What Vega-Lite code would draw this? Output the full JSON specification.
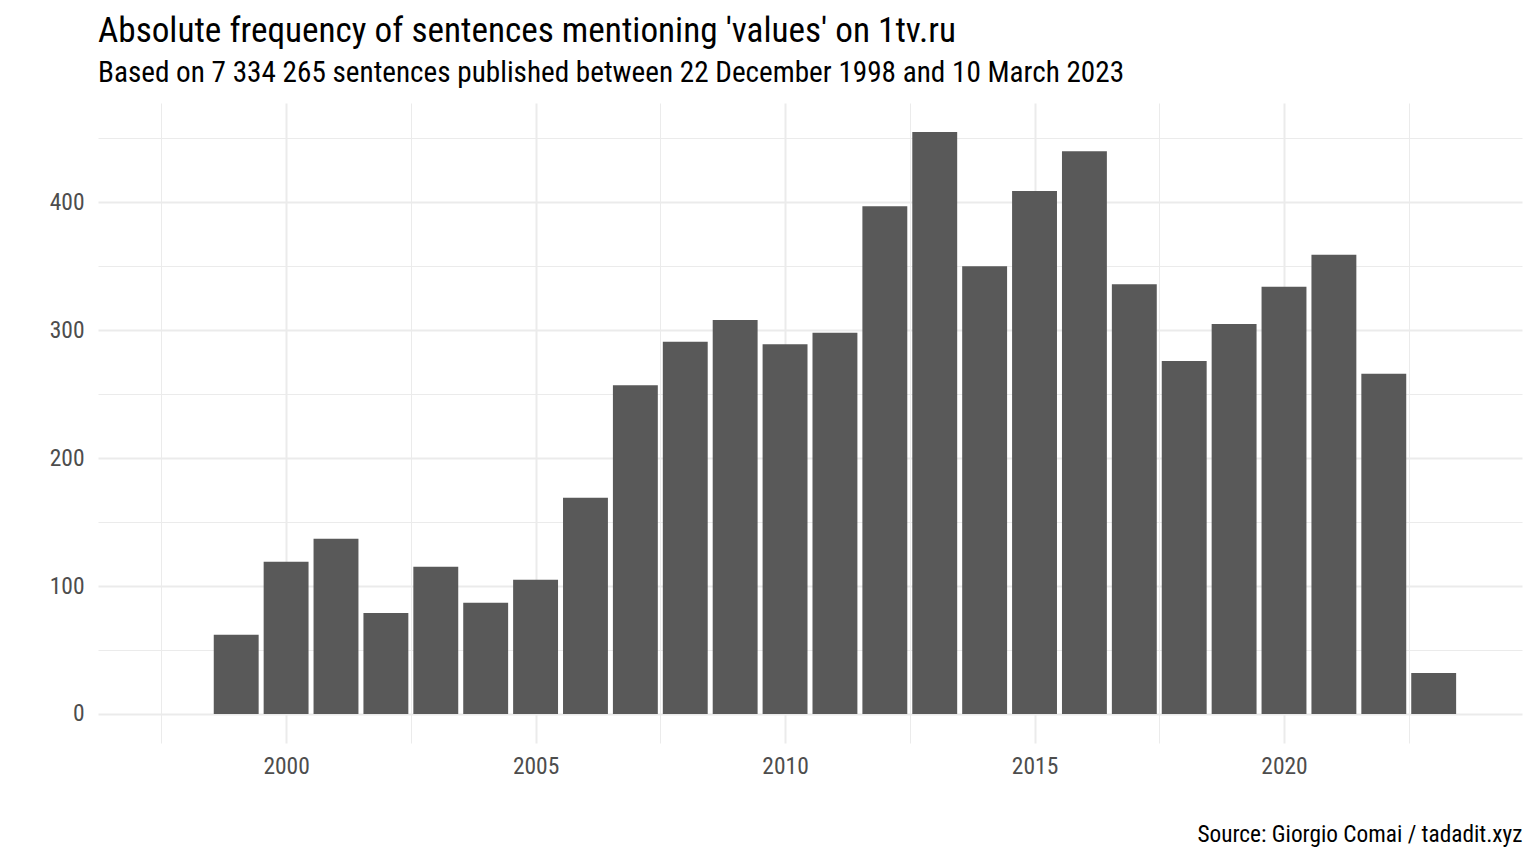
{
  "$schema": "https://vega.github.io/schema/vega-lite/v6.json",
  "description": "Absolute frequency of sentences mentioning 'values' on 1tv.ru, by year",
  "width": 1424,
  "height": 640,
  "autosize": "none",
  "padding": {"left": 98, "top": 103, "right": 14, "bottom": 121},
  "background": "white",
  "config": {
    "font": "Roboto Condensed, Roboto",
    "view": {"stroke": null},
    "axis": {
      "domain": false,
      "ticks": false,
      "gridColor": "#EBEBEB",
      "labelColor": "#4D4D4D",
      "labelFont": "Roboto Condensed, Roboto",
      "labelFontSize": 23.5
    }
  },
  "title": {
    "text": "Absolute frequency of sentences mentioning 'values' on 1tv.ru",
    "subtitle": "Based on 7 334 265 sentences published between 22 December 1998 and 10 March 2023",
    "anchor": "start",
    "frame": "group",
    "font": "Roboto Condensed, Roboto",
    "fontSize": 35.2,
    "fontWeight": "normal",
    "color": "#000000",
    "subtitleFont": "Roboto Condensed, Roboto",
    "subtitleFontSize": 29.2,
    "subtitleColor": "#000000",
    "subtitlePadding": 10,
    "offset": 15
  },
  "data": {
    "values": [
      {"year": 1999, "n": 62},
      {"year": 2000, "n": 119},
      {"year": 2001, "n": 137},
      {"year": 2002, "n": 79},
      {"year": 2003, "n": 115},
      {"year": 2004, "n": 87},
      {"year": 2005, "n": 105},
      {"year": 2006, "n": 169},
      {"year": 2007, "n": 257},
      {"year": 2008, "n": 291},
      {"year": 2009, "n": 308},
      {"year": 2010, "n": 289},
      {"year": 2011, "n": 298},
      {"year": 2012, "n": 397},
      {"year": 2013, "n": 455},
      {"year": 2014, "n": 350},
      {"year": 2015, "n": 409},
      {"year": 2016, "n": 440},
      {"year": 2017, "n": 336},
      {"year": 2018, "n": 276},
      {"year": 2019, "n": 305},
      {"year": 2020, "n": 334},
      {"year": 2021, "n": 359},
      {"year": 2022, "n": 266},
      {"year": 2023, "n": 32}
    ]
  },
  "mark": {"type": "bar", "color": "#595959", "size": 44.9},
  "encoding": {
    "x": {
      "field": "year",
      "type": "quantitative",
      "scale": {"domain": [1996.23, 2024.77], "nice": false, "zero": false, "padding": 0},
      "axis": {
        "values": [1997.5, 2000, 2002.5, 2005, 2007.5, 2010, 2012.5, 2015, 2017.5, 2020, 2022.5],
        "labelExpr": "datum.value % 5 === 0 ? datum.value : ''",
        "labelPadding": 11,
        "gridWidth": {"condition": {"test": "datum.value % 5 === 0", "value": 2}, "value": 1},
        "title": "Source: Giorgio Comai / tadadit.xyz",
        "titleFont": "Roboto Condensed, Roboto",
        "titleFontSize": 23.3,
        "titleFontWeight": "normal",
        "titleColor": "#000000",
        "titleAnchor": "end",
        "titlePadding": 46
      }
    },
    "y": {
      "field": "n",
      "type": "quantitative",
      "scale": {"domain": [-22.75, 477.75], "nice": false, "zero": false},
      "axis": {
        "values": [0, 50, 100, 150, 200, 250, 300, 350, 400, 450],
        "labelExpr": "datum.value % 100 === 0 ? datum.value : ''",
        "labelPadding": 14,
        "gridWidth": {"condition": {"test": "datum.value % 100 === 0", "value": 2}, "value": 1},
        "title": null
      }
    }
  }
}
